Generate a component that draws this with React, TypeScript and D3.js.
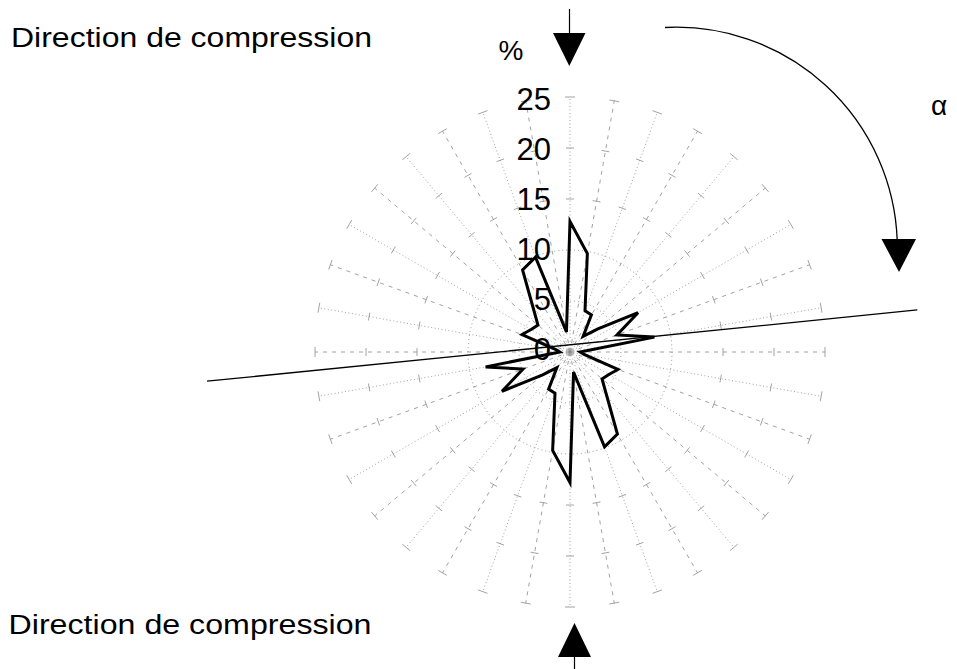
import React from "react";
import * as d3 from "d3";

// ---- data (compass degrees, clockwise from north; values in %) ----
const angles: number[] = [
  0, 10, 20, 30, 40, 50, 60, 70, 80, 90, 100, 110, 120, 130, 140, 150, 160, 170,
  180, 190, 200, 210, 220, 230, 240, 250, 260, 270, 280, 290, 300, 310, 320, 330, 340, 350,
];
const percents: number[] = [
  12.8, 9.8, 4.3, 4.2, 2.0, 3.5, 7.7, 4.9, 8.4, 1.0, 1.4, 5.0, 4.4, 4.1, 5.6, 9.3, 9.9, 2.0,
  12.8, 9.8, 4.3, 4.2, 2.0, 3.5, 7.7, 4.9, 8.4, 1.0, 1.4, 5.0, 4.4, 4.1, 5.6, 9.3, 9.9, 2.0,
];
const tickValues: number[] = [0, 5, 10, 15, 20, 25];
const ringValues: number[] = [5, 10];
const crossValues: number[] = [15, 20];
const spokeAngles: number[] = d3.range(0, 360, 10);
// reference line: two ends as [compass angle, %]
const refLineEnds: [number, number][] = [
  [83.1, 34.3],
  [265.4, 35.7],
];
const titleText = "Direction de compression";

const W = 957;
const H = 669;
const cx = 570;
const cy = 352;
const rMax = 255;

const FONT = "'Liberation Sans', Arial, Helvetica, sans-serif";

export default function App() {
  const r = d3.scaleLinear().domain([0, 25]).range([0, rMax]);
  const rad = (deg: number) => (deg * Math.PI) / 180;
  const px = (deg: number, v: number) => cx + r(v) * Math.sin(rad(deg));
  const py = (deg: number, v: number) => cy - r(v) * Math.cos(rad(deg));

  const pts = angles.map((a, i) => ({ a, v: percents[i] }));
  const rose = d3
    .lineRadial<{ a: number; v: number }>()
    .angle((d) => rad(d.a))
    .radius((d) => r(d.v))
    .curve(d3.curveLinearClosed)(pts) as string;

  const tickHalf = 4;

  return (
    <svg
      width={W}
      height={H}
      style={{ position: "absolute", left: 0, top: 0, background: "#fff" }}
      fontFamily={FONT}
    >
      {/* rings */}
      {ringValues.map((v) => (
        <circle
          key={"ring" + v}
          cx={cx}
          cy={cy}
          r={r(v)}
          fill="none"
          stroke="#888"
          strokeWidth={0.9}
          strokeDasharray="1,3"
        />
      ))}
      {/* spokes */}
      {spokeAngles.map((a) => (
        <line
          key={"sp" + a}
          x1={cx}
          y1={cy}
          x2={px(a, 25)}
          y2={py(a, 25)}
          stroke="#8a8a8a"
          strokeWidth={0.8}
          strokeDasharray={a % 20 === 0 ? "1,2.5" : "4,5"}
        />
      ))}
      {/* cross ticks and end caps */}
      {spokeAngles.map((a) =>
        [...crossValues, 25].map((v) => {
          const tx = Math.cos(rad(a));
          const ty = Math.sin(rad(a));
          const h = v === 25 ? tickHalf + 1 : tickHalf;
          return (
            <line
              key={"tk" + a + "-" + v}
              x1={px(a, v) - tx * h}
              y1={py(a, v) - ty * h}
              x2={px(a, v) + tx * h}
              y2={py(a, v) + ty * h}
              stroke="#8a8a8a"
              strokeWidth={0.8}
            />
          );
        })
      )}

      {/* tick labels */}
      {tickValues.map((v) => (
        <text
          key={"lab" + v}
          x={551}
          y={cy - r(v) * 0.98 + 8}
          textAnchor="end"
          fontSize={31}
          fill="#000"
        >
          {v}
        </text>
      ))}
      <text x={511} y={60} textAnchor="middle" fontSize={28} fill="#000">
        %
      </text>

      {/* reference line */}
      <line
        x1={px(refLineEnds[0][0], refLineEnds[0][1])}
        y1={py(refLineEnds[0][0], refLineEnds[0][1])}
        x2={px(refLineEnds[1][0], refLineEnds[1][1])}
        y2={py(refLineEnds[1][0], refLineEnds[1][1])}
        stroke="#000"
        strokeWidth={1.3}
      />

      {/* rose */}
      <path
        d={rose}
        transform={`translate(${cx},${cy})`}
        fill="none"
        stroke="#000"
        strokeWidth={3}
        strokeLinejoin="miter"
      />

      {/* top compression arrow */}
      <line x1={569.5} y1={9} x2={569.5} y2={34} stroke="#000" strokeWidth={1.2} />
      <polygon points="553,33 585.5,33 569.3,66" fill="#000" />

      {/* bottom compression arrow */}
      <polygon points="558,657 591,657 574.5,623" fill="#000" />
      <line x1={574.5} y1={656} x2={574.5} y2={669} stroke="#000" strokeWidth={1.2} />

      {/* alpha arc */}
      <path
        d="M 665 27.5 A 221 221 0 0 1 897.2 240"
        fill="none"
        stroke="#000"
        strokeWidth={1.3}
      />
      <polygon points="881.5,239 916,239 899,272" fill="#000" />
      <text x={931} y={115} fontSize={28} fill="#000">
        α
      </text>

      {/* titles */}
      <text
        x={11}
        y={46.5}
        fontSize={27}
        fill="#000"
        textLength={361}
        lengthAdjust="spacingAndGlyphs"
      >
        {titleText}
      </text>
      <text
        x={8.5}
        y={634.3}
        fontSize={27}
        fill="#000"
        textLength={363}
        lengthAdjust="spacingAndGlyphs"
      >
        {titleText}
      </text>
    </svg>
  );
}
